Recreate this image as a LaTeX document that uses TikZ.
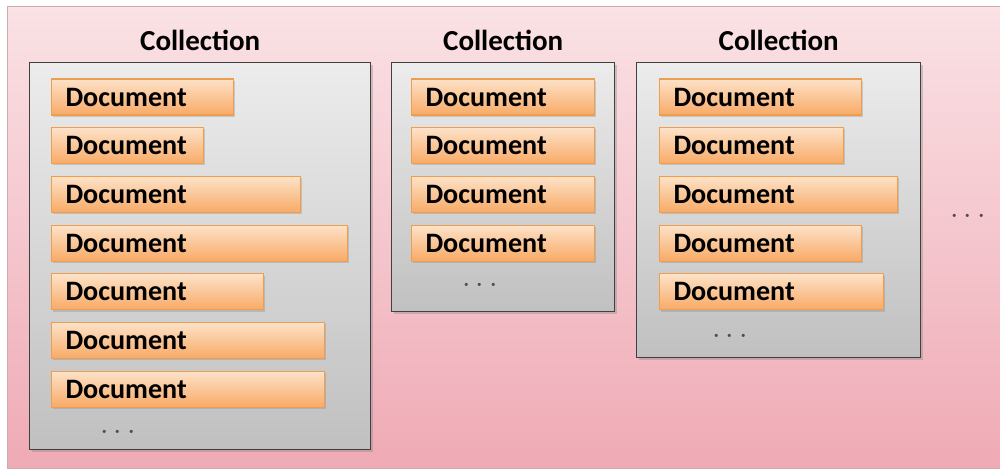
\documentclass[tikz,border=0pt]{standalone}
\usepackage{fontspec}
\setmainfont{Carlito}
\usepackage{xcolor}
\usetikzlibrary{positioning, shadows}

\definecolor{bgtop}{RGB}{250,226,229}
\definecolor{bgbot}{RGB}{239,170,181}
\definecolor{colltop}{RGB}{236,236,236}
\definecolor{collbot}{RGB}{192,192,192}
\definecolor{doctop}{RGB}{253,226,200}
\definecolor{docbot}{RGB}{248,170,102}
\definecolor{docline}{RGB}{238,158,80}

\tikzset{
  coll/.style={draw=black!75, line width=0.8pt, top color=colltop, bottom color=collbot,
    anchor=north west, drop shadow={shadow xshift=1.2pt, shadow yshift=-1.2pt, opacity=0.35}},
  doc/.style={draw=docline, line width=0.6pt, top color=doctop, bottom color=docbot,
    anchor=west, minimum height=0.72cm, inner xsep=0.28cm, align=left,
    font=\bfseries\fontsize{16}{16}\selectfont,
    drop shadow={shadow xshift=1pt, shadow yshift=-1pt, opacity=0.3}},
  colltitle/.style={font=\bfseries\fontsize{16.5}{16.5}\selectfont, anchor=south},
  more/.style={text=black!70, font=\fontsize{17}{17}\selectfont}
}

\begin{document}
\begin{tikzpicture}[x=0.02cm, y=-0.02cm]
  \useasboundingbox (0,0) rectangle (1000,468);
  \draw[draw=bgbot!70!black!60, top color=bgtop, bottom color=bgbot] (7,6) rectangle (1000,468);

  % collections
  \node[coll, minimum width=6.82cm, minimum height=7.74cm] (box1) at (29,62) {};
  \node[coll, minimum width=4.46cm, minimum height=4.98cm] (box2) at (391,62) {};
  \node[coll, minimum width=5.68cm, minimum height=5.90cm] (box3) at (636,62) {};

  \node[colltitle, above=0.1cm of box1] (title1) {Collection};
  \node[colltitle, above=0.1cm of box2] (title2) {Collection};
  \node[colltitle, above=0.1cm of box3] (title3) {Collection};

  % documents (widths in cm)
  \foreach \w [count=\i] in {3.64,3.04,4.98,5.92,4.24,5.46,5.46} {
    \pgfmathsetmacro\tw{\w-0.56}
    \node[doc, text width=\tw cm] (docA\i) at (51, {97+48.7*(\i-1)}) {Document};
  }
  \foreach \w [count=\i] in {3.66,3.66,3.66,3.66} {
    \pgfmathsetmacro\tw{\w-0.56}
    \node[doc, text width=\tw cm] (docB\i) at (411, {97+48.7*(\i-1)}) {Document};
  }
  \foreach \w [count=\i] in {4.04,3.68,4.76,4.04,4.48} {
    \pgfmathsetmacro\tw{\w-0.56}
    \node[doc, text width=\tw cm] (docC\i) at (659, {97+48.7*(\i-1)}) {Document};
  }

  \node[more] (moreA) at (118,433) {$\cdots$};
  \node[more] (moreB) at (480,286) {$\cdots$};
  \node[more] (moreC) at (730,337) {$\cdots$};
  \node[more] (moreD) at (968,217) {$\cdots$};
\end{tikzpicture}
\end{document}
